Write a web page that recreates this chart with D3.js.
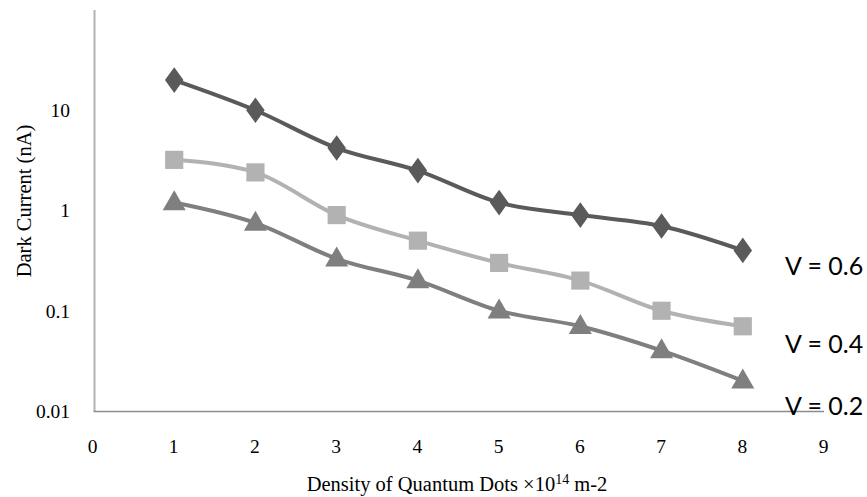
<!DOCTYPE html>
<html>
<head>
<meta charset="utf-8">
<script src="https://cdn.jsdelivr.net/npm/d3@7"></script>
<style>
  html, body { margin: 0; padding: 0; background: #fff; }
  svg { display: block; }
</style>
</head>
<body>
<svg id="chart" width="867" height="497"></svg>
<script>
const xValues = [1, 2, 3, 4, 5, 6, 7, 8];
const seriesNames = ["V = 0.6", "V = 0.4", "V = 0.2"];
const v06 = [20, 10, 4.2, 2.5, 1.2, 0.9, 0.7, 0.4];
const v04 = [3.2, 2.4, 0.9, 0.5, 0.3, 0.2, 0.1, 0.07];
const v02 = [1.2, 0.75, 0.33, 0.2, 0.1, 0.07, 0.04, 0.02];
const xTicks = [0, 1, 2, 3, 4, 5, 6, 7, 8, 9];
const yTicks = [0.01, 0.1, 1, 10];
const yTickLabels = ["0.01", "0.1", "1", "10"];

const svg = d3.select("#chart");
const x = d3.scaleLinear().domain([0, 9]).range([93, 824]);
const y = d3.scaleLog().domain([0.01, 100]).range([411, 10]);

const serif = "'Liberation Serif', 'Times New Roman', serif";

// axes lines
svg.append("line")
  .attr("x1", x(0) + 1.5).attr("x2", x(0) + 1.5)
  .attr("y1", y(100)).attr("y2", y(0.01))
  .attr("stroke", "#b3b3b3").attr("stroke-width", 2);
svg.append("line")
  .attr("x1", x(0) + 0.5).attr("x2", x(9))
  .attr("y1", y(0.01) + 0.5).attr("y2", y(0.01) + 0.5)
  .attr("stroke", "#8c8c8c").attr("stroke-width", 1.5);

// y tick labels
svg.append("g").selectAll("text").data(yTicks).join("text")
  .attr("x", 70).attr("y", d => y(d))
  .attr("dy", "0.35em")
  .attr("text-anchor", "end")
  .attr("font-family", serif).attr("font-size", 19.5)
  .attr("fill", "#000")
  .text((d, i) => yTickLabels[i]);

// x tick labels
svg.append("g").selectAll("text").data(xTicks).join("text")
  .attr("x", d => x(d) - 0.5).attr("y", 453)
  .attr("text-anchor", "middle")
  .attr("font-family", serif).attr("font-size", 19.5)
  .attr("fill", "#000")
  .text(d => d);

// axis titles
const xt = svg.append("text")
  .attr("x", 457).attr("y", 491)
  .attr("text-anchor", "middle")
  .attr("font-family", serif).attr("font-size", 20.5)
  .attr("fill", "#000");
xt.append("tspan").text("Density of Quantum Dots \u00d710");
xt.append("tspan").attr("dy", -7).attr("font-size", 14).text("14");
xt.append("tspan").attr("dy", 7).text(" m-2");

svg.append("text")
  .attr("transform", "translate(24,201) rotate(-90)")
  .attr("text-anchor", "middle")
  .attr("dominant-baseline", "central")
  .attr("font-family", serif).attr("font-size", 20.5)
  .attr("fill", "#000")
  .text("Dark Current (nA)");

const series = [
  { name: seriesNames[0], values: v06, color: "#5a5a5a", marker: d3.symbolDiamond, size: 190, labelY: 275 },
  { name: seriesNames[1], values: v04, color: "#b2b2b2", marker: d3.symbolSquare, size: 330, labelY: 353 },
  { name: seriesNames[2], values: v02, color: "#7f7f7f", marker: d3.symbolTriangle, size: 230, labelY: 415 }
];

const line = d3.line()
  .x((d, i) => x(xValues[i]))
  .y(d => y(d))
  .curve(d3.curveMonotoneX);

series.forEach(s => {
  svg.append("path")
    .attr("d", line(s.values))
    .attr("fill", "none")
    .attr("stroke", s.color)
    .attr("stroke-width", 4)
    .attr("stroke-linejoin", "round");
  const sym = d3.symbol().type(s.marker).size(s.size);
  svg.append("g").selectAll("path").data(s.values).join("path")
    .attr("transform", (d, i) => {
      let yy = y(d);
      if (s.marker === d3.symbolTriangle) yy += 1;
      if (s.marker === d3.symbolDiamond) return `translate(${x(xValues[i])},${yy}) scale(1.25,1)`;
      return `translate(${x(xValues[i])},${yy})`;
    })
    .attr("d", sym)
    .attr("fill", s.color);
  svg.append("text")
    .attr("x", 785).attr("y", s.labelY)
    .attr("font-family", "Lato, 'Open Sans', sans-serif")
    .attr("font-size", 25)
    .attr("fill", "#000")
    .text(s.name);
});
</script>
</body>
</html>
